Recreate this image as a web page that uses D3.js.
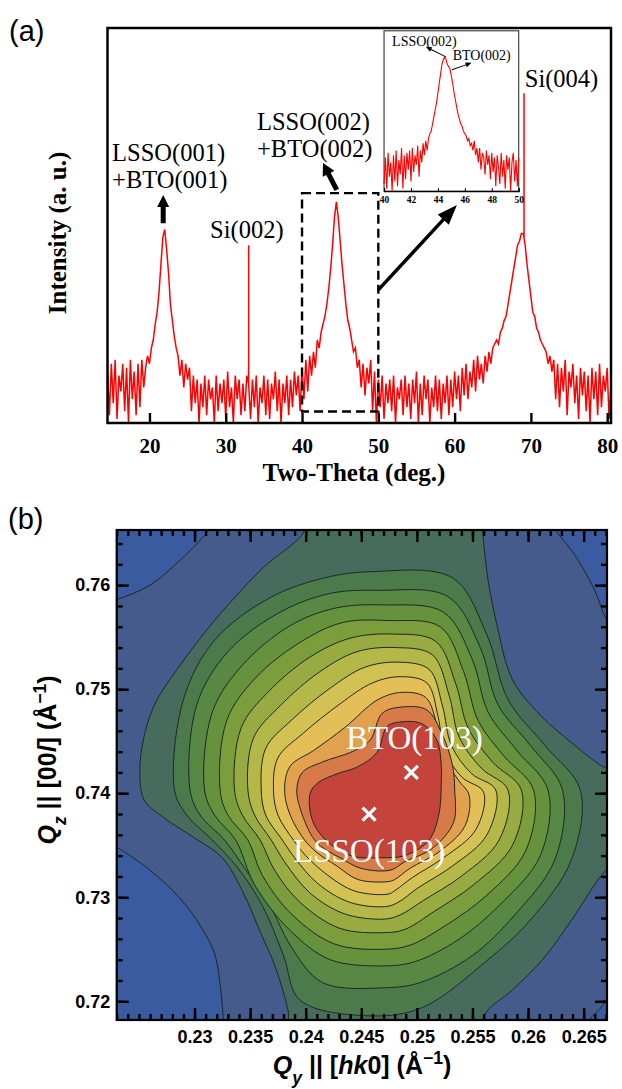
<!DOCTYPE html>
<meta charset="utf-8">
<style>
body { margin: 0; background: #fff; }
svg { display: block; }
.serif { font-family: "Liberation Serif", "Times New Roman", serif; }
.sans { font-family: "Liberation Sans", Arial, sans-serif; }
</style>
<body>
<svg width="622" height="1089"></svg>
<script src="https://cdn.jsdelivr.net/npm/d3@7"></script>
<script>

// ---------- panel (a) : XRD 2theta scan ----------
var thetaStart = 14.5, thetaStep = 0.25;
// relative intensity (% of axis height)
var intensity = [
  13, 2, 15, 5,    // 14.5
  16, 1, 12, 8,    // 15.5
  15, 3, 14, 0,    // 16.5
  16, 6, 13, 2,    // 17.5
  15, 4, 16, 9,    // 18.5
  14, 17, 15, 19,  // 19.5
  21, 25, 28, 33,  // 20.5
  40, 47, 49, 44,  // 21.5
  38, 30, 26, 22,  // 22.5
  19, 17, 12, 16,  // 23.5
  9, 15, 11, 14,   // 24.5
  3, 12, 5, 11,    // 25.5
  0, 10, 4, 12,    // 26.5
  2, 11, 6, 9,     // 27.5
  0, 12, 3, 10,    // 28.5
  5, 11, 1, 13,    // 29.5
  4, 9, 0, 12,     // 30.5
  6, 11, 2, 10,    // 31.5
  3, 12, 10, 1,    // 32.5
  11, 4, 12, 0,    // 33.5
  9, 5, 12, 2,     // 34.5
  11, 1, 10, 6,    // 35.5
  13, 3, 11, 0,    // 36.5
  10, 5, 12, 2,    // 37.5
  11, 4, 13, 7,    // 38.5
  12, 3, 14, 6,    // 39.5
  16, 8, 17, 12,   // 40.5
  18, 14, 21, 19,  // 41.5
  23, 25, 27, 30,  // 42.5
  34, 39, 45, 52,  // 43.5
  56, 52, 46, 40,  // 44.5
  35, 30, 26, 24,  // 45.5
  21, 18, 19, 14,  // 46.5
  16, 9, 15, 7,    // 47.5
  14, 10, 16, 3,   // 48.5
  13, 0, 11, 4,    // 49.5
  12, 1, 10, 5,    // 50.5
  11, 3, 12, 0,    // 51.5
  9, 6, 11, 2,     // 52.5
  12, 4, 10, 1,    // 53.5
  11, 5, 13, 0,    // 54.5
  10, 2, 12, 6,    // 55.5
  11, 0, 9, 4,     // 56.5
  12, 3, 11, 1,    // 57.5
  10, 5, 12, 2,    // 58.5
  11, 4, 13, 6,    // 59.5
  12, 3, 14, 7,    // 60.5
  15, 6, 13, 9,    // 61.5
  16, 8, 17, 11,   // 62.5
  15, 10, 17, 13,  // 63.5
  18, 15, 19, 20,  // 64.5
  21, 20, 23, 24,  // 65.5
  26, 27, 30, 33,  // 66.5
  36, 39, 42, 45,  // 67.5
  46, 48, 48, 45,  // 68.5
  40, 36, 32, 28,  // 69.5
  27, 24, 23, 21,  // 70.5
  20, 19, 18, 15,  // 71.5
  17, 13, 16, 6,   // 72.5
  15, 4, 14, 8,    // 73.5
  16, 2, 13, 9,    // 74.5
  15, 5, 12, 1,    // 75.5
  14, 7, 13, 3,    // 76.5
  12, 0, 14, 6,    // 77.5
  13, 2, 15, 4,    // 78.5
  12, 8, 14, 1,    // 79.5
  10               // 80.5
];
// inset: finer scan 40-50 deg, same units
var insetStart = 40, insetStep = 0.1;
var insetIntensity = [
  3, 14, 1, 16, 6, 12, 0, 15, 4, 17,
  2, 13, 7, 18, 1, 15, 5, 16, 9, 17,
  4, 18, 8, 15, 11, 19, 6, 17, 12, 20,
  15, 21, 17, 22, 24, 25, 28, 31, 34, 37,
  41, 45, 49, 53, 55, 56, 55, 53, 52, 51,
  48, 45, 41, 38, 35, 32, 30, 28, 27, 25,
  24, 23, 21, 22, 19, 20, 17, 21, 15, 18,
  12, 18, 9, 16, 14, 7, 17, 11, 15, 5,
  16, 8, 14, 2, 15, 10, 3, 16, 6, 13,
  1, 15, 9, 14, 0, 12, 16, 4, 13, 2,
  14
];
var siLines = [{pos: 33.0, base: 10, top: 45}, {pos: 69.1, base: 47, top: 83.5}];
var thetaTicks = [20, 30, 40, 50, 60, 70, 80];
var insetTicks = [40, 42, 44, 46, 48, 50];
var notesA = [
  {t: "LSSO(001)", x: 15.1, y: 66.3},
  {t: "+BTO(001)", x: 15.1, y: 59.5},
  {t: "Si(002)", x: 27.95, y: 46.8},
  {t: "LSSO(002)", x: 34.1, y: 74.2},
  {t: "+BTO(002)", x: 34.1, y: 67.4},
  {t: "Si(004)", x: 69.2, y: 85.1}
];
var arrowsA = [
  {from: [21.8, 50.6], to: [21.8, 57.7], w: 5, hw: 12, hl: 12},
  {from: [44.55, 59], to: [42.75, 65.8], w: 5, hw: 13, hl: 12},
  {from: [50, 33.7], to: [60.3, 55.2], w: 3.5, hw: 15, hl: 20}
];
var zoomBox = {x0: 40, x1: 50, y0: 2.9, y1: 58.2};
var insetBox = {x0: 50.75, x1: 68.4, y0: 58.7, y1: 99.3};
var insetNotes = [{t: "LSSO(002)", x: 40.6, y: 60.7}, {t: "BTO(002)", x: 45.1, y: 54.9}];
var insetArrows = [{from: [44.6, 56.1], to: [43.1, 60.3]}, {from: [45.04, 50.7], to: [46.5, 53.6]}];

// ---------- panel (b) : reciprocal space map ----------
var qyTicks = [0.23, 0.235, 0.24, 0.245, 0.25, 0.255, 0.26, 0.265];
var qzTicks = [0.72, 0.73, 0.74, 0.75, 0.76];
var qyMinor = d3.range(223, 268).map(function(d) { return d / 1000; });
var qzMinor = d3.range(720, 766, 2).map(function(d) { return d / 1000; });
var bandColors = ["#3b5ba0", "#445b8c", "#476c5e", "#4c7a4b", "#588843", "#67923d", "#7c9d3c",
                  "#97ab42", "#b4b848", "#d1c253", "#e4bf58", "#e2a14f", "#d8794a", "#c4443c"];
// iso-intensity lines, [Qy, Qz]
var cornerTL = [[0.2215,0.7667],[0.2215,0.7581],[0.2230,0.7586],[0.2260,0.7600],[0.2287,0.7624],[0.2305,0.7643],[0.2312,0.7653],[0.2314,0.7667]];
var cornerTR = [[0.2620,0.7667],[0.2625,0.7653],[0.2642,0.7629],[0.2660,0.7595],[0.2671,0.7566],[0.2687,0.7547],[0.2687,0.7667]];
var cornerBL = [[0.2215,0.7355],[0.2230,0.7348],[0.2260,0.7326],[0.2286,0.7300],[0.2305,0.7273],[0.2318,0.7246],[0.2323,0.7216],[0.2326,0.7182],[0.2327,0.7167],[0.2215,0.7167]];
var cornerBR = [[0.2651,0.7167],[0.2655,0.7182],[0.2665,0.7193],[0.2671,0.7201],[0.2687,0.7211],[0.2687,0.7167]];
var ring2 = [[0.2395,0.7667],[0.2399,0.7653],[0.2359,0.7614],[0.2318,0.7566],[0.2287,0.7523],[0.2264,0.7485],[0.2253,0.7446],[0.2251,0.7413],[0.2255,0.7393],[0.2273,0.7376],[0.2300,0.7357],[0.2325,0.7338],[0.2344,0.7304],[0.2359,0.7267],[0.2373,0.7232],[0.2384,0.7192],[0.2388,0.7167],[0.2562,0.7167],[0.2561,0.7187],[0.2586,0.7211],[0.2613,0.7240],[0.2639,0.7278],[0.2663,0.7317],[0.2683,0.7345],[0.2683,0.7417],[0.2665,0.7427],[0.2642,0.7446],[0.2611,0.7475],[0.2586,0.7509],[0.2573,0.7557],[0.2564,0.7605],[0.2559,0.7653],[0.2558,0.7667]];
var ring3 = [[0.2460,0.7613],[0.2532,0.7607],[0.2563,0.7552],[0.2582,0.7490],[0.2615,0.7446],[0.2647,0.7403],[0.2639,0.7336],[0.2602,0.7278],[0.2564,0.7240],[0.2505,0.7194],[0.2458,0.7186],[0.2395,0.7201],[0.2380,0.7244],[0.2361,0.7292],[0.2339,0.7328],[0.2316,0.7355],[0.2293,0.7379],[0.2282,0.7403],[0.2290,0.7490],[0.2318,0.7547],[0.2368,0.7588],[0.2417,0.7607]];
var ring4 = [[0.2465,0.7595],[0.2528,0.7589],[0.2557,0.7540],[0.2573,0.7485],[0.2602,0.7446],[0.2631,0.7403],[0.2624,0.7336],[0.2588,0.7283],[0.2550,0.7244],[0.2503,0.7218],[0.2471,0.7213],[0.2415,0.7218],[0.2386,0.7254],[0.2368,0.7292],[0.2345,0.7328],[0.2327,0.7355],[0.2305,0.7379],[0.2296,0.7403],[0.2302,0.7485],[0.2330,0.7536],[0.2377,0.7574],[0.2422,0.7592]];
var ring5 = [[0.2470,0.7581],[0.2524,0.7574],[0.2550,0.7528],[0.2564,0.7478],[0.2590,0.7441],[0.2618,0.7403],[0.2611,0.7340],[0.2574,0.7292],[0.2537,0.7259],[0.2498,0.7238],[0.2471,0.7234],[0.2422,0.7240],[0.2386,0.7268],[0.2354,0.7312],[0.2337,0.7355],[0.2318,0.7379],[0.2309,0.7403],[0.2316,0.7478],[0.2343,0.7523],[0.2386,0.7561],[0.2427,0.7578]];
var ring6 = [[0.2474,0.7566],[0.2521,0.7560],[0.2542,0.7517],[0.2555,0.7470],[0.2578,0.7436],[0.2605,0.7403],[0.2598,0.7345],[0.2563,0.7302],[0.2526,0.7273],[0.2494,0.7254],[0.2471,0.7250],[0.2426,0.7255],[0.2388,0.7283],[0.2361,0.7321],[0.2348,0.7355],[0.2330,0.7379],[0.2323,0.7403],[0.2329,0.7470],[0.2355,0.7511],[0.2395,0.7545],[0.2433,0.7564]];
var ring7 = [[0.2478,0.7553],[0.2517,0.7546],[0.2535,0.7505],[0.2546,0.7463],[0.2568,0.7430],[0.2594,0.7403],[0.2586,0.7350],[0.2551,0.7312],[0.2515,0.7286],[0.2489,0.7269],[0.2471,0.7266],[0.2431,0.7270],[0.2395,0.7295],[0.2372,0.7326],[0.2359,0.7355],[0.2343,0.7379],[0.2336,0.7403],[0.2342,0.7463],[0.2366,0.7497],[0.2404,0.7531],[0.2440,0.7549]];
var ring8 = [[0.2480,0.7540],[0.2514,0.7533],[0.2529,0.7494],[0.2538,0.7454],[0.2558,0.7424],[0.2582,0.7403],[0.2574,0.7355],[0.2541,0.7321],[0.2506,0.7297],[0.2485,0.7283],[0.2471,0.7279],[0.2435,0.7284],[0.2404,0.7304],[0.2381,0.7334],[0.2369,0.7355],[0.2354,0.7379],[0.2348,0.7403],[0.2353,0.7453],[0.2377,0.7484],[0.2413,0.7517],[0.2446,0.7536]];
var ring9 = [[0.2483,0.7526],[0.2511,0.7519],[0.2523,0.7484],[0.2531,0.7446],[0.2549,0.7419],[0.2571,0.7403],[0.2563,0.7360],[0.2532,0.7330],[0.2501,0.7309],[0.2483,0.7295],[0.2472,0.7291],[0.2440,0.7295],[0.2411,0.7313],[0.2390,0.7338],[0.2379,0.7355],[0.2364,0.7379],[0.2360,0.7403],[0.2364,0.7443],[0.2387,0.7470],[0.2422,0.7501],[0.2453,0.7521]];
var ring10 = [[0.2485,0.7512],[0.2509,0.7506],[0.2519,0.7474],[0.2525,0.7440],[0.2541,0.7415],[0.2560,0.7401],[0.2553,0.7365],[0.2524,0.7338],[0.2496,0.7319],[0.2481,0.7307],[0.2474,0.7303],[0.2444,0.7306],[0.2420,0.7321],[0.2400,0.7340],[0.2389,0.7355],[0.2375,0.7379],[0.2371,0.7403],[0.2375,0.7434],[0.2397,0.7457],[0.2431,0.7486],[0.2460,0.7506]];
var ring11 = [[0.2487,0.7497],[0.2508,0.7492],[0.2518,0.7466],[0.2525,0.7434],[0.2537,0.7413],[0.2547,0.7398],[0.2543,0.7368],[0.2519,0.7343],[0.2494,0.7328],[0.2480,0.7317],[0.2474,0.7315],[0.2447,0.7317],[0.2428,0.7330],[0.2410,0.7343],[0.2399,0.7355],[0.2386,0.7379],[0.2381,0.7403],[0.2386,0.7426],[0.2407,0.7441],[0.2435,0.7463],[0.2465,0.7490]];
var ring12 = [[0.2488,0.7483],[0.2509,0.7480],[0.2523,0.7456],[0.2532,0.7427],[0.2534,0.7403],[0.2533,0.7372],[0.2514,0.7347],[0.2489,0.7334],[0.2476,0.7326],[0.2449,0.7328],[0.2431,0.7338],[0.2419,0.7345],[0.2408,0.7355],[0.2397,0.7379],[0.2392,0.7403],[0.2397,0.7420],[0.2415,0.7430],[0.2442,0.7440],[0.2458,0.7451],[0.2469,0.7477]];
var ring13 = [[0.2404,0.7400],[0.2411,0.7410],[0.2429,0.7419],[0.2446,0.7425],[0.2464,0.7439],[0.2473,0.7464],[0.2482,0.7468],[0.2504,0.7467],[0.2518,0.7451],[0.2522,0.7425],[0.2522,0.7413],[0.2520,0.7381],[0.2511,0.7355],[0.2489,0.7340],[0.2468,0.7338],[0.2440,0.7340],[0.2418,0.7355],[0.2406,0.7374]];
var peaksB = [{t: "BTO(103)", q: [0.2495, 0.742], dx: 3, dy: -23}, {t: "LSSO(103)", q: [0.2457, 0.738], dx: 0, dy: 48}];

var svg = d3.select("svg");

function arrow(g, x1, y1, x2, y2, w, hw, hl) {
  var dx = x2 - x1, dy = y2 - y1, L = Math.hypot(dx, dy),
      ux = dx / L, uy = dy / L, nx = -uy, ny = ux,
      bx = x2 - ux * hl, by = y2 - uy * hl;
  var pts = [[x1 + nx * w / 2, y1 + ny * w / 2], [bx + nx * w / 2, by + ny * w / 2], [bx + nx * hw / 2, by + ny * hw / 2],
             [x2, y2], [bx - nx * hw / 2, by - ny * hw / 2], [bx - nx * w / 2, by - ny * w / 2], [x1 - nx * w / 2, y1 - ny * w / 2]];
  g.append("path").attr("d", "M" + pts.join("L") + "Z").attr("fill", "#000");
}

// ===== panel (a) =====
var xA = d3.scaleLinear().domain([14.5, 80.5]).range([107.5, 611]),
    yA = d3.scaleLinear().domain([0, 100]).range([423, 28]);
var gA = svg.append("g");

gA.append("clipPath").attr("id", "clipA").append("rect")
  .attr("x", xA(14.5)).attr("y", yA(100)).attr("width", xA(80.5) - xA(14.5)).attr("height", yA(0) - yA(100));

var spec = intensity.map(function(v, i) { return [thetaStart + i * thetaStep, v]; });
var lineA = d3.line().x(function(d) { return xA(d[0]); }).y(function(d) { return yA(d[1]); });
gA.append("path").datum(spec).attr("clip-path", "url(#clipA)")
  .attr("fill", "none").attr("stroke", "#ff0000").attr("stroke-width", 1.5).attr("d", lineA);
gA.selectAll(".si").data(siLines).enter().append("line")
  .attr("x1", function(d) { return xA(d.pos); }).attr("x2", function(d) { return xA(d.pos); })
  .attr("y1", function(d) { return yA(d.base); }).attr("y2", function(d) { return yA(d.top); })
  .attr("stroke", "#ff0000").attr("stroke-width", 1.5);

gA.append("rect")
  .attr("x", xA(zoomBox.x0)).attr("y", yA(zoomBox.y1))
  .attr("width", xA(zoomBox.x1) - xA(zoomBox.x0)).attr("height", yA(zoomBox.y0) - yA(zoomBox.y1))
  .attr("fill", "none").attr("stroke", "#000").attr("stroke-width", 2.4).attr("stroke-dasharray", "9,5");

arrowsA.forEach(function(a) {
  arrow(gA, xA(a.from[0]), yA(a.from[1]), xA(a.to[0]), yA(a.to[1]), a.w, a.hw, a.hl);
});

gA.selectAll(".note").data(notesA).enter().append("text").attr("class", "serif")
  .attr("x", function(d) { return xA(d.x); }).attr("y", function(d) { return yA(d.y); })
  .attr("font-size", 24.5).attr("fill", "#000").text(function(d) { return d.t; });

// inset
var xI = d3.scaleLinear().domain([40, 50]).range([xA(insetBox.x0), xA(insetBox.x1)]),
    yI = d3.scaleLinear().domain([0, 67]).range([yA(insetBox.y0), yA(insetBox.y1)]);
var gI = gA.append("g");
gI.append("rect").attr("x", xI(40)).attr("y", yI(67)).attr("width", xI(50) - xI(40)).attr("height", yI(0) - yI(67))
  .attr("fill", "#fff").attr("stroke", "#444").attr("stroke-width", 1.2);
var specI = insetIntensity.map(function(v, i) { return [insetStart + i * insetStep, v]; });
gI.append("path").datum(specI).attr("fill", "none").attr("stroke", "#ff0000").attr("stroke-width", 1.1)
  .attr("d", d3.line().x(function(d) { return xI(d[0]); }).y(function(d) { return yI(d[1]); }));
var axI = gI.append("g").attr("transform", "translate(0," + yI(0) + ")")
  .call(d3.axisBottom(xI).tickValues(insetTicks).tickSize(-3).tickPadding(5));
axI.select(".domain").attr("stroke", "#000").attr("stroke-width", 1.2);
axI.selectAll("line").attr("stroke-width", 1);
axI.selectAll("text").attr("class", "serif").attr("font-size", 9.5).attr("font-weight", "bold").attr("fill", "#000");
gI.selectAll(".inote").data(insetNotes).enter().append("text").attr("class", "serif")
  .attr("x", function(d) { return xI(d.x); }).attr("y", function(d) { return yI(d.y); })
  .attr("font-size", 14).attr("fill", "#000").text(function(d) { return d.t; });
insetArrows.forEach(function(a) {
  arrow(gI, xI(a.from[0]), yI(a.from[1]), xI(a.to[0]), yI(a.to[1]), 0.9, 5, 6);
});

// frame & axis
gA.append("rect").attr("x", xA(14.5)).attr("y", yA(100)).attr("width", xA(80.5) - xA(14.5)).attr("height", yA(0) - yA(100))
  .attr("fill", "none").attr("stroke", "#000").attr("stroke-width", 2.5);
var axA = gA.append("g").attr("transform", "translate(0," + yA(0) + ")")
  .call(d3.axisBottom(xA).tickValues(thetaTicks).tickSize(-10).tickPadding(15));
axA.select(".domain").remove();
axA.selectAll("line").attr("stroke-width", 2.4);
axA.selectAll("text").attr("class", "serif").attr("font-size", 21).attr("font-weight", "bold").attr("fill", "#000");

gA.append("text").attr("class", "serif").attr("x", 354).attr("y", 481).attr("text-anchor", "middle")
  .attr("font-size", 25).attr("font-weight", "bold").text("Two-Theta (deg.)");
gA.append("text").attr("class", "serif").attr("transform", "translate(66,233) rotate(-90)").attr("text-anchor", "middle")
  .attr("font-size", 25).attr("font-weight", "bold").text("Intensity (a. u.)");
svg.append("text").attr("class", "sans").attr("x", 9).attr("y", 41).attr("font-size", 29).text("(a)");

// ===== panel (b) =====
var xB = d3.scaleLinear().domain([0.2230, 0.2671]).range([116.7, 607]),
    yB = d3.scaleLinear().domain([0.7182, 0.7653]).range([1020, 530]);
var gB = svg.append("g");
gB.append("clipPath").attr("id", "clipB").append("rect")
  .attr("x", xB(0.2230)).attr("y", yB(0.7653)).attr("width", xB(0.2671) - xB(0.2230)).attr("height", yB(0.7182) - yB(0.7653));

var rings = [
  {band: 0, pts: cornerTL}, {band: 0, pts: cornerTR}, {band: 0, pts: cornerBL}, {band: 0, pts: cornerBR},
  {band: 2, pts: ring2}, {band: 3, pts: ring3}, {band: 4, pts: ring4}, {band: 5, pts: ring5},
  {band: 6, pts: ring6}, {band: 7, pts: ring7}, {band: 8, pts: ring8}, {band: 9, pts: ring9},
  {band: 10, pts: ring10}, {band: 11, pts: ring11}, {band: 12, pts: ring12}, {band: 13, pts: ring13}
];
var lineB = d3.line().x(function(d) { return xB(d[0]); }).y(function(d) { return yB(d[1]); })
  .curve(d3.curveCatmullRomClosed.alpha(0.5));
var map = gB.append("g").attr("clip-path", "url(#clipB)");
map.append("rect").attr("x", xB(0.2230)).attr("y", yB(0.7653)).attr("width", xB(0.2671) - xB(0.2230))
  .attr("height", yB(0.7182) - yB(0.7653)).attr("fill", bandColors[1]);
map.selectAll(".ring").data(rings).enter().append("path")
  .attr("d", function(d) { return lineB(d.pts); })
  .attr("fill", function(d) { return bandColors[d.band]; })
  .attr("stroke", "#1c2a24").attr("stroke-width", 1);

// peak markers
peaksB.forEach(function(p) {
  var cx = xB(p.q[0]), cy = yB(p.q[1]), s = 6.5;
  gB.append("path").attr("d", "M" + (cx - s) + "," + (cy - s) + "L" + (cx + s) + "," + (cy + s) + "M" + (cx + s) + "," + (cy - s) + "L" + (cx - s) + "," + (cy + s))
    .attr("stroke", "#fff").attr("stroke-width", 3.2);
  gB.append("text").attr("class", "serif").attr("x", cx + p.dx).attr("y", cy + p.dy).attr("text-anchor", "middle")
    .attr("font-size", 33).attr("fill", "#fff").text(p.t);
});

function styleAxis(sel) {
  sel.select(".domain").remove();
  sel.selectAll("line").attr("stroke", "#000").attr("stroke-width", 2.4);
  sel.selectAll("text").attr("class", "sans").attr("font-size", 18).attr("font-weight", "bold").attr("fill", "#000");
}
var fmt = function(d) { return String(+d.toFixed(3)); };
var H = yB(0.7182), T = yB(0.7653), Lx = xB(0.2230), Rx = xB(0.2671);
gB.append("g").attr("transform", "translate(0," + H + ")").call(d3.axisBottom(xB).tickValues(qyMinor).tickSize(-6).tickFormat("")).call(styleAxis);
gB.append("g").attr("transform", "translate(0," + T + ")").call(d3.axisTop(xB).tickValues(qyMinor).tickSize(-6).tickFormat("")).call(styleAxis);
gB.append("g").attr("transform", "translate(" + Lx + ",0)").call(d3.axisLeft(yB).tickValues(qzMinor).tickSize(-6).tickFormat("")).call(styleAxis);
gB.append("g").attr("transform", "translate(" + Rx + ",0)").call(d3.axisRight(yB).tickValues(qzMinor).tickSize(-6).tickFormat("")).call(styleAxis);
gB.append("g").attr("transform", "translate(0," + H + ")").call(d3.axisBottom(xB).tickValues(qyTicks).tickSize(-12).tickPadding(10).tickFormat(fmt)).call(styleAxis);
gB.append("g").attr("transform", "translate(0," + T + ")").call(d3.axisTop(xB).tickValues(qyTicks).tickSize(-12).tickFormat("")).call(styleAxis);
gB.append("g").attr("transform", "translate(" + Lx + ",0)").call(d3.axisLeft(yB).tickValues(qzTicks).tickSize(-12).tickPadding(6.5).tickFormat(fmt)).call(styleAxis);
gB.append("g").attr("transform", "translate(" + Rx + ",0)").call(d3.axisRight(yB).tickValues(qzTicks).tickSize(-12).tickFormat("")).call(styleAxis);
gB.append("rect").attr("x", Lx).attr("y", T).attr("width", Rx - Lx).attr("height", H - T)
  .attr("fill", "none").attr("stroke", "#000").attr("stroke-width", 2.2);

var xt = gB.append("text").attr("class", "sans").attr("x", 362).attr("y", 1074).attr("text-anchor", "middle")
  .attr("font-size", 25).attr("font-weight", "bold");
xt.append("tspan").attr("font-style", "italic").text("Q");
xt.append("tspan").attr("font-style", "italic").attr("font-size", "70%").attr("baseline-shift", "sub").text("y");
xt.append("tspan").text(" || [");
xt.append("tspan").attr("font-style", "italic").text("hk");
xt.append("tspan").text("0] (Å");
xt.append("tspan").attr("font-size", "70%").attr("baseline-shift", "super").text("−1");
xt.append("tspan").text(")");

var yt = gB.append("text").attr("class", "sans").attr("transform", "translate(56,760) rotate(-90)").attr("text-anchor", "middle")
  .attr("font-size", 25).attr("font-weight", "bold");
yt.append("tspan").attr("font-style", "italic").text("Q");
yt.append("tspan").attr("font-style", "italic").attr("font-size", "70%").attr("baseline-shift", "sub").text("z");
yt.append("tspan").text(" || [00");
yt.append("tspan").attr("font-style", "italic").text("l");
yt.append("tspan").text("] (Å");
yt.append("tspan").attr("font-size", "70%").attr("baseline-shift", "super").text("−1");
yt.append("tspan").text(")");

svg.append("text").attr("class", "sans").attr("x", 8).attr("y", 529).attr("font-size", 29).text("(b)");

</script>
</body>
